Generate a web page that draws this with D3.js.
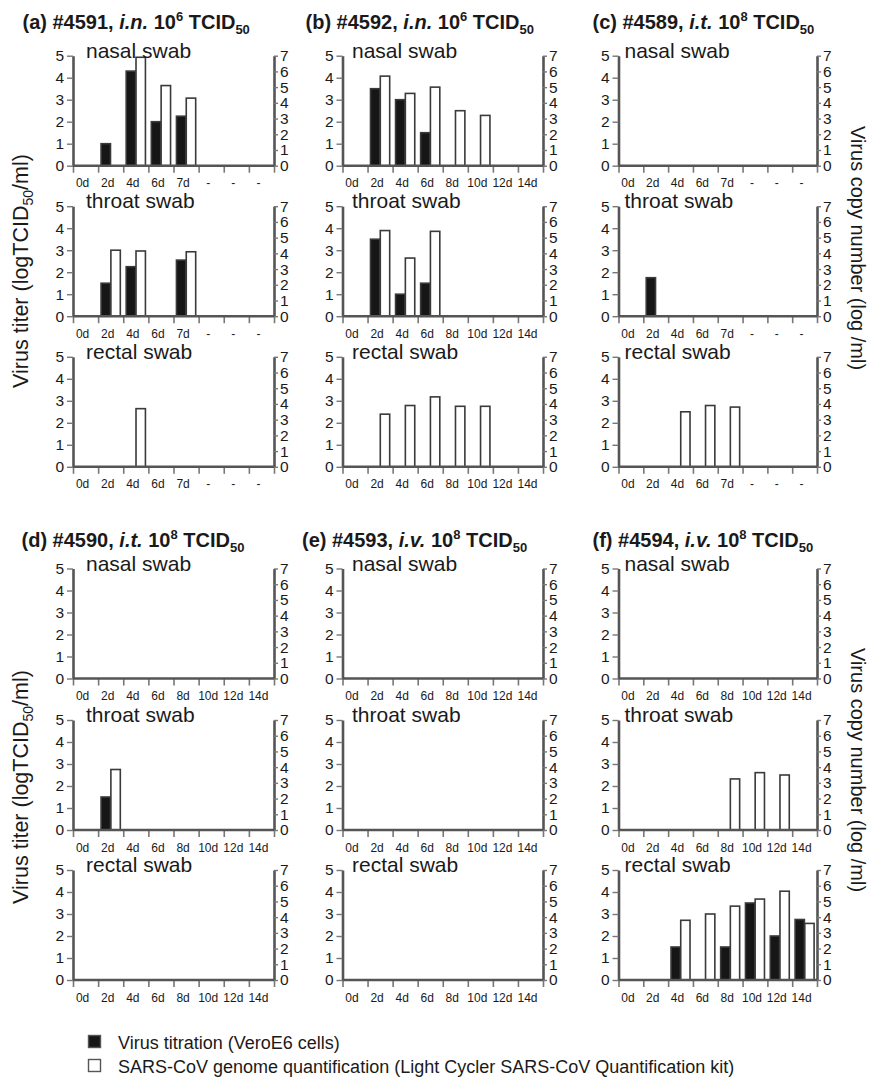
<!DOCTYPE html>
<html>
<head>
<meta charset="utf-8">
<script src="https://cdn.jsdelivr.net/npm/d3@7"></script>
<style>
  html, body { margin: 0; padding: 0; background: #fff; }
  svg { display: block; font-family: "Liberation Sans", Arial, Helvetica, sans-serif; }
</style>
</head>
<body>
<svg id="chart" width="871" height="1080"></svg>
<script>
// ---------------- data ----------------
const daysShort = ["0d", "2d", "4d", "6d", "7d", "-", "-", "-"];
const daysLong  = ["0d", "2d", "4d", "6d", "8d", "10d", "12d", "14d"];
const swabs = ["nasal swab", "throat swab", "rectal swab"];

const panelLetters = ["(a)", "(b)", "(c)", "(d)", "(e)", "(f)"];
const animalIds    = ["#4591", "#4592", "#4589", "#4590", "#4593", "#4594"];
const routes       = ["i.n.", "i.n.", "i.t.", "i.t.", "i.v.", "i.v."];
const doseExps     = ["6", "6", "8", "8", "8", "8"];
const panelDays    = [daysShort, daysLong, daysShort, daysLong, daysLong, daysLong];

const yLeftTicks  = [0, 1, 2, 3, 4, 5];
const yRightTicks = [0, 1, 2, 3, 4, 5, 6, 7];

// Virus titer (log TCID50/ml), per swab [nasal, throat, rectal], per day bin
const titerA = [
  [null, 1.0, 4.3, 2.0, 2.25, null, null, null],
  [null, 1.5, 2.25, null, 2.55, null, null, null],
  [null, null, null, null, null, null, null, null]
];
const titerB = [
  [null, 3.5, 3.0, 1.5, null, null, null, null],
  [null, 3.5, 1.0, 1.5, null, null, null, null],
  [null, null, null, null, null, null, null, null]
];
const titerC = [
  [null, null, null, null, null, null, null, null],
  [null, 1.75, null, null, null, null, null, null],
  [null, null, null, null, null, null, null, null]
];
const titerD = [
  [null, null, null, null, null, null, null, null],
  [null, 1.5, null, null, null, null, null, null],
  [null, null, null, null, null, null, null, null]
];
const titerE = [
  [null, null, null, null, null, null, null, null],
  [null, null, null, null, null, null, null, null],
  [null, null, null, null, null, null, null, null]
];
const titerF = [
  [null, null, null, null, null, null, null, null],
  [null, null, null, null, null, null, null, null],
  [null, null, 1.5, null, 1.5, 3.5, 2.0, 2.75]
];

// Virus copy number (log /ml)
const copyA = [
  [null, null, 6.9, 5.1, 4.3, null, null, null],
  [null, 4.2, 4.15, null, 4.1, null, null, null],
  [null, null, 3.7, null, null, null, null, null]
];
const copyB = [
  [null, 5.7, 4.6, 5.0, 3.5, 3.2, null, null],
  [null, 5.45, 3.7, 5.4, null, null, null, null],
  [null, 3.35, 3.9, 4.45, 3.85, 3.85, null, null]
];
const copyC = [
  [null, null, null, null, null, null, null, null],
  [null, null, null, null, null, null, null, null],
  [null, null, 3.5, 3.9, 3.8, null, null, null]
];
const copyD = [
  [null, null, null, null, null, null, null, null],
  [null, 3.85, null, null, null, null, null, null],
  [null, null, null, null, null, null, null, null]
];
const copyE = [
  [null, null, null, null, null, null, null, null],
  [null, null, null, null, null, null, null, null],
  [null, null, null, null, null, null, null, null]
];
const copyF = [
  [null, null, null, null, null, null, null, null],
  [null, null, null, null, 3.25, 3.65, 3.5, null],
  [null, null, 3.8, 4.2, 4.7, 5.15, 5.65, 3.6]
];

const titers = [titerA, titerB, titerC, titerD, titerE, titerF];
const copies = [copyA, copyB, copyC, copyD, copyE, copyF];

const legendLabels = [
  "Virus titration (VeroE6 cells)",
  "SARS-CoV genome quantification (Light Cycler SARS-CoV Quantification kit)"
];
const leftTitle = ["Virus titer (logTCID", "50", "/ml)"];
const rightTitle = "Virus copy number (log /ml)";

// ---------------- layout ----------------
const colX = [[73, 274], [342.5, 543], [618.5, 817]];
const rowZero = [[165.7, 316.2, 466.8], [678.5, 830, 980]];
const plotH = 110;
const titlePos = [[22.5, 28.5], [305.5, 28.5], [592.5, 29], [21.5, 547], [302, 547], [592.5, 547]];
const swabLabelX = [86, 352, 624.5];

const AXIS = "#555";
const TICK = "#777";
const TXT = "#1a1a1a";
const FONT = "'Liberation Sans', Arial, sans-serif";

const svg = d3.select("#chart");

// panel titles
titlePos.forEach((p, k) => {
  const t = svg.append("text")
    .attr("x", p[0]).attr("y", p[1])
    .attr("font-size", 20).attr("font-weight", "bold").attr("fill", TXT);
  t.append("tspan").text(panelLetters[k] + " " + animalIds[k] + ", ");
  t.append("tspan").attr("font-style", "italic").text(routes[k]);
  t.append("tspan").text(" 10");
  t.append("tspan").attr("font-size", 13).attr("dy", -8).text(doseExps[k]);
  t.append("tspan").attr("dy", 8).text(" TCID");
  t.append("tspan").attr("font-size", 13).attr("dy", 5).text("50");
});

// panels
for (let k = 0; k < 6; k++) {
  const col = k % 3, blk = Math.floor(k / 3);
  const [x0, x1] = colX[col];
  const labels = panelDays[k];
  const band = d3.scaleBand().domain(d3.range(labels.length)).range([x0, x1]).paddingInner(0).paddingOuter(0);
  const inner = d3.scaleBand().domain(["titer", "copy"]).range([0, band.bandwidth()]).paddingInner(0.04).paddingOuter(0.3);
  const xb = d3.scaleLinear().domain([0, labels.length]).range([x0, x1]);

  for (let s = 0; s < 3; s++) {
    const y0 = rowZero[blk][s];
    const yL = d3.scaleLinear().domain([0, 5]).range([y0, y0 - plotH]);
    const yR = d3.scaleLinear().domain([0, 7]).range([y0, y0 - plotH]);
    const g = svg.append("g");

    // bars
    const tv = titers[k][s], cv = copies[k][s];
    const barData = [];
    tv.forEach((v, i) => { if (v != null) barData.push({i, v, key: "titer"}); });
    cv.forEach((v, i) => { if (v != null) barData.push({i, v, key: "copy"}); });
    g.selectAll("rect.bar").data(barData).join("rect")
      .attr("class", "bar")
      .attr("x", d => band(d.i) + inner(d.key))
      .attr("width", inner.bandwidth())
      .attr("y", d => d.key === "titer" ? yL(d.v) : yR(d.v))
      .attr("height", d => y0 - (d.key === "titer" ? yL(d.v) : yR(d.v)))
      .attr("fill", d => d.key === "titer" ? "#161616" : "#fff")
      .attr("stroke", "#3a3a3a")
      .attr("stroke-width", 1.6);

    // x boundary ticks
    const gxb = g.append("g").attr("transform", `translate(0,${y0})`)
      .call(d3.axisBottom(xb).tickValues(d3.range(labels.length + 1)).tickFormat("").tickSize(7).tickSizeOuter(0));
    gxb.select(".domain").remove();
    gxb.selectAll(".tick text").remove();
    gxb.selectAll(".tick line").attr("stroke", TICK).attr("stroke-width", 1.6);

    // x labels
    const gxl = g.append("g").attr("transform", `translate(0,${y0})`)
      .call(d3.axisBottom(band).tickSize(0).tickPadding(13).tickFormat(i => labels[i]));
    gxl.select(".domain").remove();
    gxl.selectAll(".tick text").attr("font-size", 12).attr("fill", TXT).attr("dx", -3)
      .attr("font-family", FONT);

    // baseline
    g.append("line").attr("x1", x0).attr("x2", x1).attr("y1", y0).attr("y2", y0)
      .attr("stroke", AXIS).attr("stroke-width", 2.6);

    // left axis
    const gl = g.append("g").attr("transform", `translate(${x0},0)`)
      .call(d3.axisLeft(yL).tickValues(yLeftTicks).tickFormat(d3.format("d"))
        .tickSize(6).tickPadding(3).tickSizeOuter(0));
    gl.select(".domain").attr("stroke", AXIS).attr("stroke-width", 2.6);
    gl.selectAll(".tick line").attr("stroke", TICK).attr("stroke-width", 1.4);
    gl.selectAll(".tick text").attr("font-size", 15.5).attr("fill", TXT)
      .attr("font-family", FONT);

    // right axis
    const gr = g.append("g").attr("transform", `translate(${x1},0)`)
      .call(d3.axisRight(yR).tickValues(yRightTicks).tickFormat(d3.format("d"))
        .tickSize(4).tickPadding(2).tickSizeOuter(0));
    gr.select(".domain").attr("stroke", AXIS).attr("stroke-width", 2.6);
    gr.selectAll(".tick line").attr("stroke", TICK).attr("stroke-width", 1.4);
    gr.selectAll(".tick text").attr("font-size", 15.5).attr("fill", TXT)
      .attr("font-family", FONT);

    // swab label
    g.append("text").attr("x", swabLabelX[col]).attr("y", y0 - plotH + 2)
      .attr("font-size", 21).attr("fill", TXT).text(swabs[s]);
  }
}

// axis titles
[[28, 271], [28, 787]].forEach(p => {
  const t = svg.append("text")
    .attr("transform", `translate(${p[0]},${p[1]}) rotate(-90)`)
    .attr("text-anchor", "middle").attr("font-size", 21.5).attr("fill", TXT);
  t.append("tspan").text(leftTitle[0]);
  t.append("tspan").attr("font-size", 14).attr("dy", 5).text(leftTitle[1]);
  t.append("tspan").attr("dy", -5).text(leftTitle[2]);
});
[[851, 248], [851, 770]].forEach(p => {
  svg.append("text")
    .attr("transform", `translate(${p[0]},${p[1]}) rotate(90)`)
    .attr("text-anchor", "middle").attr("font-size", 20).attr("fill", TXT)
    .text(rightTitle);
});

// legend
const legY = [1042, 1066];
legendLabels.forEach((lab, i) => {
  svg.append("rect").attr("x", 88.5).attr("y", legY[i] - 6.5).attr("width", 12).attr("height", 12)
    .attr("fill", i === 0 ? "#161616" : "#fff").attr("stroke", "#555").attr("stroke-width", 1.4);
  svg.append("text").attr("x", 118).attr("y", legY[i] + 6.5)
    .attr("font-size", 18).attr("fill", TXT).text(lab);
});
</script>
</body>
</html>
